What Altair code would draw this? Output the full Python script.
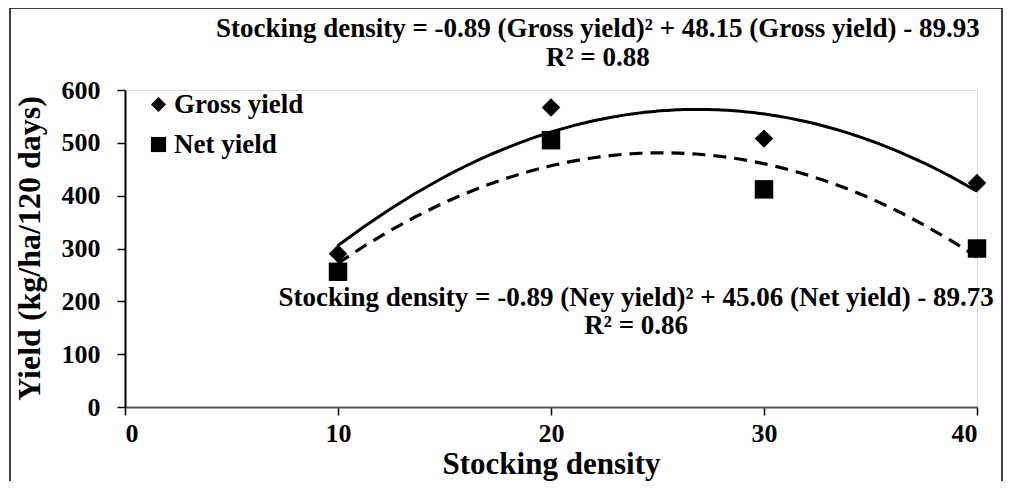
import altair as alt
import pandas as pd

# ---- data ----
stocking = [10, 20, 30, 40]
gross_yield = [290, 567, 508, 424]
net_yield = [256, 505, 412, 300]
series_names = ["Gross yield", "Net yield"]
x_ticks = [0, 10, 20, 30, 40]
y_ticks = [0, 100, 200, 300, 400, 500, 600]

ann_x = [22.2, 22.2, 24.0, 24.0]
ann_y = [715, 661, 207, 154]
ann_text = [
    "Stocking density = -0.89 (Gross yield)² + 48.15 (Gross yield) - 89.93",
    "R² = 0.88",
    "Stocking density = -0.89 (Ney yield)² + 45.06 (Net yield) - 89.73",
    "R² = 0.86",
]

df = pd.DataFrame({
    "density": stocking * 2,
    "yield": gross_yield + net_yield,
    "series": [series_names[0]] * len(stocking) + [series_names[1]] * len(stocking),
})
ann = pd.DataFrame({"density": ann_x, "yield": ann_y, "label": ann_text})

FONT = "Liberation Serif"

x_enc = alt.X(
    "density:Q",
    scale=alt.Scale(domain=[0, 40], nice=False, zero=False),
    axis=alt.Axis(
        values=x_ticks, title="Stocking density", grid=False,
        labelFont=FONT, labelFontSize=26, labelFontWeight="bold", labelColor="black",
        labelPadding=5, tickSize=8, tickColor="black", tickWidth=1.5,
        domainColor="#555555", domainWidth=2,
        titleFont=FONT, titleFontSize=31, titleFontWeight="bold", titleColor="black",
        titleX=426, titleY=57, titleBaseline="middle", titleAlign="center",
    ),
)
y_enc = alt.Y(
    "yield:Q",
    scale=alt.Scale(domain=[0, 600], nice=False),
    axis=alt.Axis(
        values=y_ticks, title="Yield (kg/ha/120 days)", grid=False,
        labelFont=FONT, labelFontSize=26, labelFontWeight="bold", labelColor="black",
        labelPadding=17, tickSize=8, tickColor="black", tickWidth=1.5,
        domainColor="black", domainWidth=2,
        titleFont=FONT, titleFontSize=32, titleFontWeight="bold", titleColor="black",
        titleAngle=-90, titleX=-96, titleY=158, titleBaseline="middle", titleAlign="center",
    ),
)

base = alt.Chart(df)

points = base.mark_point(filled=True, color="black", opacity=1, size=340).encode(
    x=x_enc,
    y=y_enc,
    shape=alt.Shape(
        "series:N",
        scale=alt.Scale(domain=series_names, range=["diamond", "square"]),
        legend=alt.Legend(
            title=None, orient="none", legendX=20, legendY=1,
            labelFont=FONT, labelFontSize=27, labelFontWeight="bold", labelColor="black",
            symbolSize=230, symbolFillColor="black", symbolStrokeColor="black",
            symbolStrokeWidth=0, symbolOpacity=1, rowPadding=12, labelOffset=2, padding=0,
        ),
    ),
)

gross_line = base.transform_filter(
    alt.datum.series == series_names[0]
).transform_regression(
    "density", "yield", method="poly", order=2, extent=[10, 40]
).mark_line(color="black", strokeWidth=3).encode(x=x_enc, y=y_enc)

net_line = base.transform_filter(
    alt.datum.series == series_names[1]
).transform_regression(
    "density", "yield", method="poly", order=2, extent=[10, 40]
).mark_line(color="black", strokeWidth=3.2, strokeDash=[13, 8]).encode(x=x_enc, y=y_enc)

labels = alt.Chart(ann).mark_text(
    font=FONT, fontSize=27, fontWeight="bold", color="black",
    align="center", baseline="middle",
).encode(x=x_enc, y=y_enc, text="label:N")

frame = alt.Chart(pd.DataFrame({"k": [0]})).mark_rect(
    fillOpacity=0, stroke="black", strokeWidth=1.5
).encode(
    x=alt.value(-115), x2=alt.value(877), y=alt.value(-82), y2=alt.value(430)
)

chart = alt.layer(frame, gross_line, net_line, points, labels).properties(
    width=852, height=317,
    autosize=alt.AutoSizeParams(type="none"),
    padding={"left": 117, "top": 82, "right": 26, "bottom": 74},
).configure_view(stroke=None).configure(background="white")

chart.save("out.html", embed_options={"renderer": "svg", "actions": False})
